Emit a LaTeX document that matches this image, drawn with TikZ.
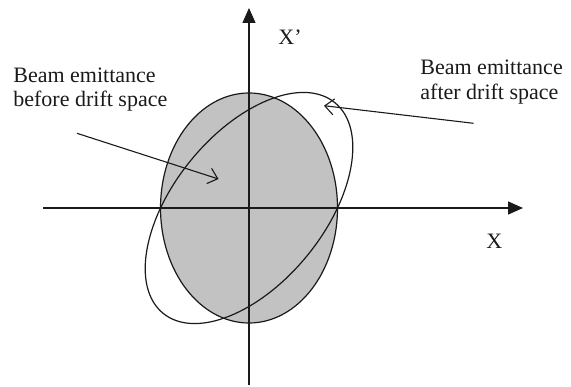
\documentclass[tikz,border=0pt]{standalone}
\usepackage{fontspec}
\setmainfont{Liberation Serif}
\usetikzlibrary{arrows.meta}
\definecolor{emtInk}{HTML}{1A1A1A}
\definecolor{emtShade}{HTML}{C2C2C2}
\tikzset{
  emt axis/.style={draw=emtInk, line width=0.7pt, -{Triangle[length=7.5pt,width=6.5pt]}},
  emt beam/.style={draw=emtInk, line width=0.6pt},
  emt pointer/.style={draw=emtInk, line width=0.55pt, -{Straight Barb[length=4.5pt,width=8pt]}},
  emt label/.style={font=\fontsize{11}{12.2}\selectfont, text=emtInk, inner sep=0pt, align=left},
}

\begin{document}
\begin{tikzpicture}[x=.5pt,y=.5pt]
  \useasboundingbox (0,0) rectangle (571,386);
  \coordinate (origin) at (249,178);
  % phase space ellipses
  \filldraw[emt beam, fill=emtShade] (origin) ellipse [x radius=88.5, y radius=115];
  \draw[emt beam] (origin) ellipse [x radius=135.9, y radius=75.2, rotate=50.8];
  % axes
  \coordinate (xFrom) at (43,178);
  \coordinate (xTo) at (523,178);
  \coordinate (yFrom) at (249,1);
  \coordinate (yTo) at (249,378);
  \draw[emt axis] (xFrom) -- (xTo);
  \draw[emt axis] (yFrom) -- (yTo);
  \node[emt label, anchor=base west] (xLabel) at (486,138) {X};
  \node[emt label, anchor=base west] (xpLabel) at (278,341) {X’};
  % labels and pointers
  \node[emt label, anchor=base west] (beforeLabel) at (13,279.3) {Beam emittance\\before drift space};
  \node[emt label, anchor=base west] (afterLabel) at (420,286.7) {Beam emittance\\after drift space};
  \coordinate (beforeTail) at (77,252.7);
  \coordinate (beforeTip) at (218.5,207);
  \coordinate (afterTail) at (473.5,262.7);
  \coordinate (afterTip) at (324,280.3);
  \draw[emt pointer] (beforeTail) -- (beforeTip);
  \draw[emt pointer] (afterTail) -- (afterTip);
\end{tikzpicture}
\end{document}
